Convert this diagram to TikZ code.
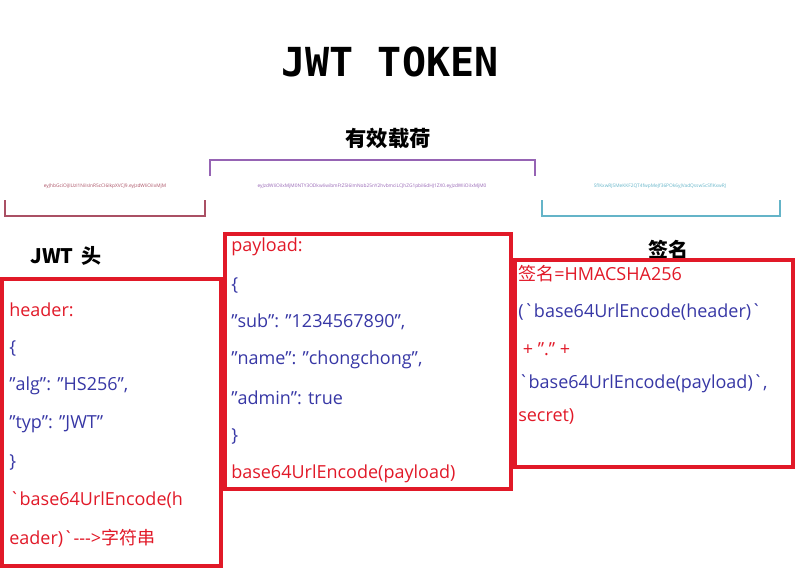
\documentclass[tikz,border=0pt]{standalone}
\usepackage{fontspec}
\setmainfont{Open Sans}
\newfontfamily\monob{DejaVu Sans Mono}
\newfontfamily\cjkb{Noto Sans CJK SC}
\newcommand{\bq}{\textasciigrave}
\definecolor{tred}{RGB}{225,25,40}
\definecolor{tblue}{RGB}{55,55,165}
\definecolor{bred}{RGB}{170,80,100}
\definecolor{bpur}{RGB}{150,100,180}
\definecolor{bcyan}{RGB}{100,180,200}
\begin{document}
\begin{tikzpicture}[x=0.75pt,y=-0.75pt,
  redbox/.style={draw=tred,line width=3.5pt},
  ln/.style={anchor=west,inner sep=0pt,font=\fontsize{13.5pt}{16pt}\selectfont},
  rd/.style={ln,text=tred},
  bl/.style={ln,text=tblue},
  brk/.style={line width=1.2pt}]
\useasboundingbox (0,0) rectangle (797,571);
\node (title) at (390,62) {\monob\bfseries\fontsize{30pt}{32pt}\selectfont JWT TOKEN};
\node (pl) at (388,138) {\cjkb\bfseries\fontsize{16pt}{18pt}\selectfont 有效载荷};
\node (t1) at (105,186) [text=bred,font=\fontsize{3.6pt}{4pt}\selectfont,inner sep=0pt] {eyJhbGciOiJIUzI1NiIsInR5cCI6IkpXVCJ9.eyJzdWIiOiIxMjM};
\node (t2) at (372,186) [text=bpur,font=\fontsize{3.6pt}{4pt}\selectfont,inner sep=0pt] {eyJzdWIiOiIxMjM0NTY3ODkwIiwibmFtZSI6ImNob25nY2hvbmciLCJhZG1pbiI6dHJ1ZX0.eyJzdWIiOiIxMjM0};
\node (t3) at (660,186) [text=bcyan,font=\fontsize{3.6pt}{4pt}\selectfont,inner sep=0pt] {SflKxwRJSMeKKF2QT4fwpMeJf36POk6yJVadQssw5cSflKxwRJ};
\draw[brk,bred] (5,200) -- (5,216) -- (205,216) -- (205,200);
\draw[brk,bpur] (210,176) -- (210,160) -- (535,160) -- (535,176);
\draw[brk,bcyan] (542,200) -- (542,216) -- (780,216) -- (780,200);
\node (jh) at (66,256) {\cjkb\bfseries\fontsize{15pt}{17pt}\selectfont JWT\, 头};
\node (qm) at (668,250) {\cjkb\bfseries\fontsize{15pt}{17pt}\selectfont 签名};
\draw[redbox] (2,279) rectangle (221,566);
\draw[redbox] (225,234) rectangle (511,489);
\draw[redbox] (515,260) rectangle (793,467);
\node[rd] (h1) at (9,310) {header:};
\node[bl] (h2) at (9,348) {\{};
\node[bl] (h3) at (9,386) {"alg": "HS256",};
\node[bl] (h4) at (9,424) {"typ": "JWT"};
\node[bl] (h5) at (9,462) {\}};
\node[rd] (h6) at (9,500) {\bq base64UrlEncode(h};
\node[rd] (h7) at (9,538) {eader)\bq-{}-{}->{\cjkb 字符串}};
\node[rd] (p1) at (231,247) {payload:};
\node[bl] (p2) at (231,285) {\{};
\node[bl] (p3) at (231,322) {"sub": "1234567890",};
\node[bl] (p4) at (231,360) {"name": "chongchong",};
\node[bl] (p5) at (231,398) {"admin": true};
\node[bl] (p6) at (231,436) {\}};
\node[rd] (p7) at (231,474) {base64UrlEncode(payload)};
\node[rd] (s1) at (518,274) {{\cjkb 签名}=HMACSHA256};
\node[bl] (s2) at (518,312) {(\bq base64UrlEncode(header)\bq};
\node[rd] (s3) at (518,349) {\ + "." +};
\node[bl] (s4) at (518,384) {\bq base64UrlEncode(payload)\bq,};
\node[rd] (s5) at (518,416) {secret)};
\end{tikzpicture}
\end{document}
